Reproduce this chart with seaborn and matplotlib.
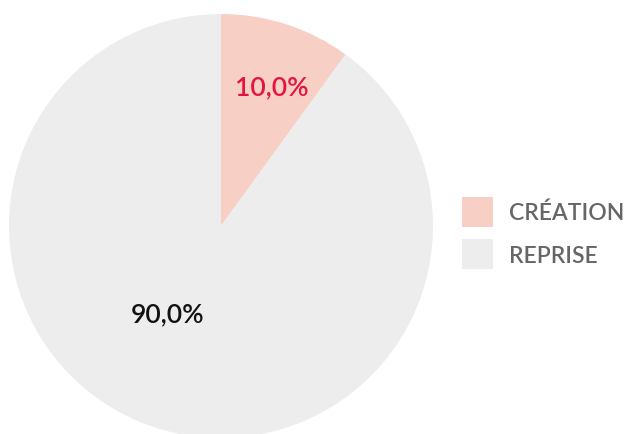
import matplotlib
matplotlib.use("Agg")
import matplotlib.pyplot as plt
import seaborn as sns
import numpy as np

categories = ["CRÉATION", "REPRISE"]
values = [10.0, 90.0]
labels_txt = ["10,0%", "90,0%"]
colors = ["#F7CFC5", "#EDEDED"]
label_colors = ["#E2163C", "#111111"]

sns.set_theme(style="white")
plt.rcParams['font.family'] = ['Lato', 'DejaVu Sans']

W, H = 625, 435
fig = plt.figure(figsize=(W / 100, H / 100), dpi=100)
cx, cy, r = 221, 227, 212
ax = fig.add_axes([(cx - r) / W, (H - cy - r) / H, 2 * r / W, 2 * r / H])
wedges, _ = ax.pie(values, colors=sns.color_palette(colors), startangle=90,
                   counterclock=False, radius=1.0,
                   wedgeprops=dict(linewidth=0))
ax.set_xlim(-1, 1)
ax.set_ylim(-1, 1)
ax.set_aspect("equal")
ax.axis("off")

# label positions (distance fraction, angle deg)
label_pos = [(0.70, 70.0), (0.485, 239.0)]
for txt, col, (d, a) in zip(labels_txt, label_colors, label_pos):
    ax.text(d * np.cos(np.radians(a)), d * np.sin(np.radians(a)), txt,
            ha="center", va="center", fontsize=19, color=col,
            fontweight="semibold")

leg = fig.legend(wedges, categories, loc="center left",
                 bbox_to_anchor=(462 / W, 1 - 234 / H), frameon=False,
                 borderpad=0, borderaxespad=0,
                 prop=dict(size=16.5, weight="semibold"),
                 handlelength=1.35, handleheight=1.6,
                 labelspacing=0.55, handletextpad=0.68)
for t in leg.get_texts():
    t.set_color("#666666")

fig.savefig("out.png", dpi=100)
